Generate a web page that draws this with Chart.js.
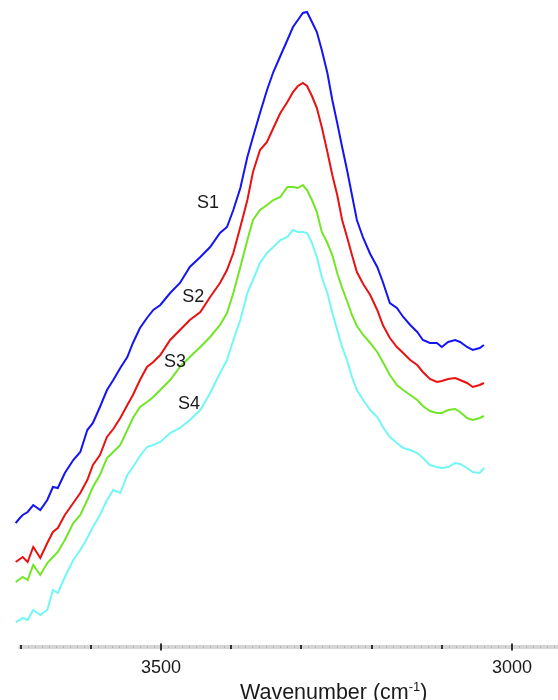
<!DOCTYPE html>
<html>
<head>
<meta charset="utf-8">
<script src="https://cdn.jsdelivr.net/npm/chart.js@4.4.1/dist/chart.umd.min.js"></script>
<style>
  html, body { margin: 0; padding: 0; background: #ffffff; }
  #wrap { width: 558px; height: 700px; position: relative; }
</style>
</head>
<body>
<div id="wrap"><canvas id="c" width="558" height="700"></canvas></div>
<script>
// Wavenumber (cm-1) sample positions
const wavenumbers = [3707,3701,3697,3690,3682,3672,3662,3654,3647,3637,3625,3615,3605,3597,3587,3577,3568,3558,3548,3540,3530,3520,3511,3501,3487,3473,3459,3444,3430,3416,3406,3397,3387,3377,3369,3359,3349,3340,3330,3320,3312,3305,3298,3292,3285,3278,3271,3263,3256,3249,3242,3235,3228,3221,3212,3202,3192,3184,3174,3164,3155,3145,3135,3127,3117,3107,3100,3091,3081,3074,3064,3056,3046,3040];

// Absorbance (a.u.) of each sample
const s1 = [0.244,0.254,0.260,0.266,0.280,0.270,0.290,0.316,0.314,0.344,0.370,0.386,0.430,0.444,0.476,0.510,0.530,0.554,0.576,0.604,0.634,0.654,0.670,0.680,0.704,0.724,0.756,0.776,0.796,0.824,0.836,0.870,0.914,0.976,1.016,1.064,1.110,1.146,1.178,1.210,1.236,1.250,1.264,1.266,1.246,1.226,1.190,1.144,1.090,1.044,0.996,0.950,0.900,0.850,0.814,0.782,0.756,0.726,0.684,0.674,0.656,0.640,0.626,0.610,0.604,0.604,0.596,0.606,0.610,0.606,0.596,0.590,0.594,0.600];
const s2 = [0.166,0.172,0.176,0.166,0.196,0.174,0.204,0.226,0.234,0.260,0.284,0.304,0.330,0.360,0.380,0.416,0.432,0.454,0.480,0.500,0.530,0.556,0.566,0.580,0.610,0.630,0.650,0.666,0.696,0.724,0.750,0.784,0.836,0.890,0.946,0.990,1.006,1.034,1.064,1.086,1.106,1.118,1.124,1.118,1.098,1.074,1.036,0.986,0.940,0.900,0.850,0.816,0.780,0.746,0.722,0.700,0.670,0.640,0.614,0.596,0.584,0.570,0.560,0.546,0.532,0.526,0.528,0.532,0.534,0.530,0.524,0.516,0.520,0.524];
const s3 = [0.126,0.132,0.136,0.130,0.160,0.140,0.164,0.176,0.186,0.210,0.244,0.260,0.290,0.316,0.340,0.374,0.386,0.400,0.430,0.454,0.476,0.486,0.496,0.510,0.530,0.556,0.576,0.596,0.616,0.640,0.664,0.704,0.756,0.810,0.850,0.870,0.880,0.890,0.896,0.916,0.916,0.914,0.920,0.910,0.890,0.866,0.826,0.804,0.780,0.744,0.714,0.688,0.660,0.638,0.620,0.604,0.586,0.566,0.540,0.520,0.510,0.500,0.490,0.478,0.468,0.464,0.464,0.470,0.472,0.466,0.454,0.450,0.454,0.458];
const s4 = [0.046,0.050,0.054,0.050,0.070,0.060,0.070,0.110,0.104,0.136,0.170,0.190,0.214,0.236,0.260,0.290,0.310,0.304,0.340,0.356,0.378,0.396,0.400,0.406,0.424,0.434,0.450,0.470,0.504,0.544,0.570,0.610,0.650,0.704,0.730,0.764,0.784,0.796,0.810,0.816,0.830,0.826,0.826,0.824,0.804,0.776,0.736,0.704,0.664,0.630,0.596,0.570,0.536,0.510,0.490,0.470,0.456,0.436,0.416,0.404,0.394,0.390,0.384,0.374,0.360,0.356,0.354,0.356,0.364,0.362,0.354,0.346,0.344,0.354];

const seriesNames = ['S1','S2','S3','S4'];
const tickValues = [3700,3600,3500,3400,3300,3200,3100,3000];
const labeledTicks = [3500,3000];
const axisTitle = 'Wavenumber (cm';
const axisTitleSup = '-1';

const FONT = "'Liberation Sans', Arial, Helvetica, sans-serif";
const colors = ['#1414f5', '#e81212', '#72e626', '#74f6f6'];
const seriesData = [s1, s2, s3, s4];

// where the series names sit, in data units (wavenumber, absorbance)
const nameAnchors = [[3433, 0.884], [3454, 0.696], [3480, 0.566], [3460, 0.482]];

const datasets = seriesData.map((arr, i) => ({
  label: seriesNames[i],
  data: wavenumbers.map((w, j) => ({ x: w, y: arr[j] })),
  borderColor: colors[i],
  backgroundColor: colors[i],
  borderWidth: 2,
  pointRadius: 0,
  tension: 0,
  fill: false
}));

const axisPlugin = {
  id: 'axisBand',
  afterDraw(chart) {
    const ctx = chart.ctx;
    const xs = chart.scales.x;
    const y0 = chart.chartArea.bottom;
    ctx.save();
    // gray band
    ctx.fillStyle = '#d6d6d6';
    const xStart = xs.getPixelForValue(3703);
    ctx.fillRect(xStart, y0 - 2, chart.width - xStart, 4);
    // fine dashes
    ctx.fillStyle = '#b4b4b4';
    for (let v = 3700; v >= 2940; v -= 10) {
      const px = Math.round(xs.getPixelForValue(v));
      ctx.fillRect(px, y0 - 1, 1, 2);
    }
    // minor / major ticks
    ctx.fillStyle = '#333333';
    tickValues.forEach(v => {
      const px = Math.round(xs.getPixelForValue(v));
      const major = labeledTicks.includes(v);
      const h = major ? 7 : 4;
      ctx.fillRect(px - 1, y0 - h / 2, 2, h);
    });
    // axis title with superscript
    const big = '21.5px ' + FONT, small = '13px ' + FONT;
    ctx.font = big;
    const w1 = ctx.measureText(axisTitle).width;
    const w3 = ctx.measureText(')').width;
    ctx.font = small;
    const w2 = ctx.measureText(axisTitleSup).width;
    const total = w1 + w2 + w3;
    const cx = xs.getPixelForValue(3254);
    let x = cx - total / 2;
    const base = 699;
    ctx.fillStyle = '#1a1a1a';
    ctx.textBaseline = 'alphabetic';
    ctx.textAlign = 'left';
    ctx.font = big;
    ctx.fillText(axisTitle, x, base);
    x += w1;
    ctx.font = small;
    ctx.fillText(axisTitleSup, x, base - 8);
    x += w2;
    ctx.font = big;
    ctx.fillText(')', x, base);
    // series names
    const ys = chart.scales.y;
    ctx.font = '18px ' + FONT;
    ctx.textAlign = 'center';
    ctx.textBaseline = 'middle';
    nameAnchors.forEach((a, i) => {
      ctx.fillText(seriesNames[i], xs.getPixelForValue(a[0]), ys.getPixelForValue(a[1]));
    });
    ctx.restore();
  }
};

new Chart(document.getElementById('c'), {
  type: 'line',
  data: { datasets },
  options: {
    responsive: false,
    animation: false,
    parsing: true,
    layout: { padding: { left: 15, right: 0, top: 0, bottom: 0 } },
    plugins: {
      legend: { display: false },
      tooltip: { enabled: false },
      title: { display: false }
    },
    scales: {
      x: {
        type: 'linear',
        reverse: true,
        min: 2934.5,
        max: 3708,
        afterBuildTicks(scale) {
          scale.ticks = tickValues.map(v => ({ value: v }));
        },
        afterFit(scale) { scale.height = 53; },
        grid: { display: false, drawTicks: false },
        border: { display: false },
        ticks: {
          autoSkip: false,
          maxRotation: 0,
          padding: 10,
          color: '#1a1a1a',
          font: { family: FONT, size: 18 },
          callback: (v) => labeledTicks.includes(v) ? String(v) : ''
        }
      },
      y: {
        display: false,
        min: -0.004,
        max: 1.29
      }
    }
  },
  plugins: [axisPlugin]
});
</script>
</body>
</html>
